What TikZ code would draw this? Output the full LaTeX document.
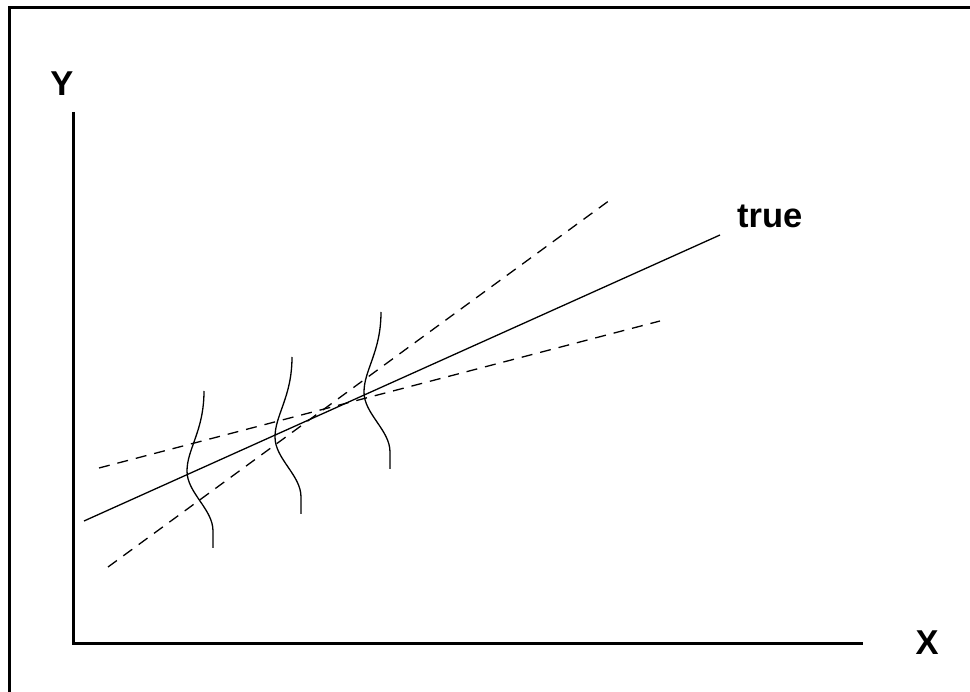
\documentclass[tikz,border=0pt]{standalone}
\usepackage{fontspec}
\setmainfont{Liberation Sans}
\newcommand\lblfont{\fontsize{34.5}{40}\selectfont\bfseries}
\begin{document}
\begin{tikzpicture}[x=1pt,y=-1pt,
  axis/.style={line width=3pt},
  frameline/.style={line width=3pt},
  thinline/.style={line width=1.3pt},
  dashline/.style={line width=1.3pt, dash pattern=on 11pt off 8pt},
  lbl/.style={font=\lblfont, inner sep=0pt},
  wave/.pic={\draw[thinline] (0,0) .. controls (0,40) and (-17,58) .. (-17,80) .. controls (-17,102) and (9,118) .. (9,140) -- (9,157);}]
\useasboundingbox (0,0) rectangle (970,692);
% frame (left and top edges)
\draw[frameline] (9,692) -- (9,7.5) -- (970,7.5);
% axes
\coordinate (ytop) at (73,112);
\coordinate (orig) at (73,643);
\coordinate (xend) at (863,643);
\draw[axis] (ytop) -- (orig) -- (xend);
\node[lbl] (ylab) at (62,84) {Y};
\node[lbl] (xlab) at (927,643) {X};
% lines
\coordinate (t1) at (84,521);
\coordinate (t2) at (720,235);
\draw[thinline] (t1) -- (t2);
\node[lbl, anchor=west] (truelab) at (737,216) {true};
\coordinate (s1) at (108,567);
\coordinate (s2) at (610,200);
\draw[dashline] (s1) -- (s2);
\coordinate (f1) at (99,468);
\coordinate (f2) at (660,321);
\draw[dashline] (f1) -- (f2);
% error curves
\pic at (204,391) {wave};
\pic at (292,357) {wave};
\pic at (381,312) {wave};
\end{tikzpicture}
\end{document}
